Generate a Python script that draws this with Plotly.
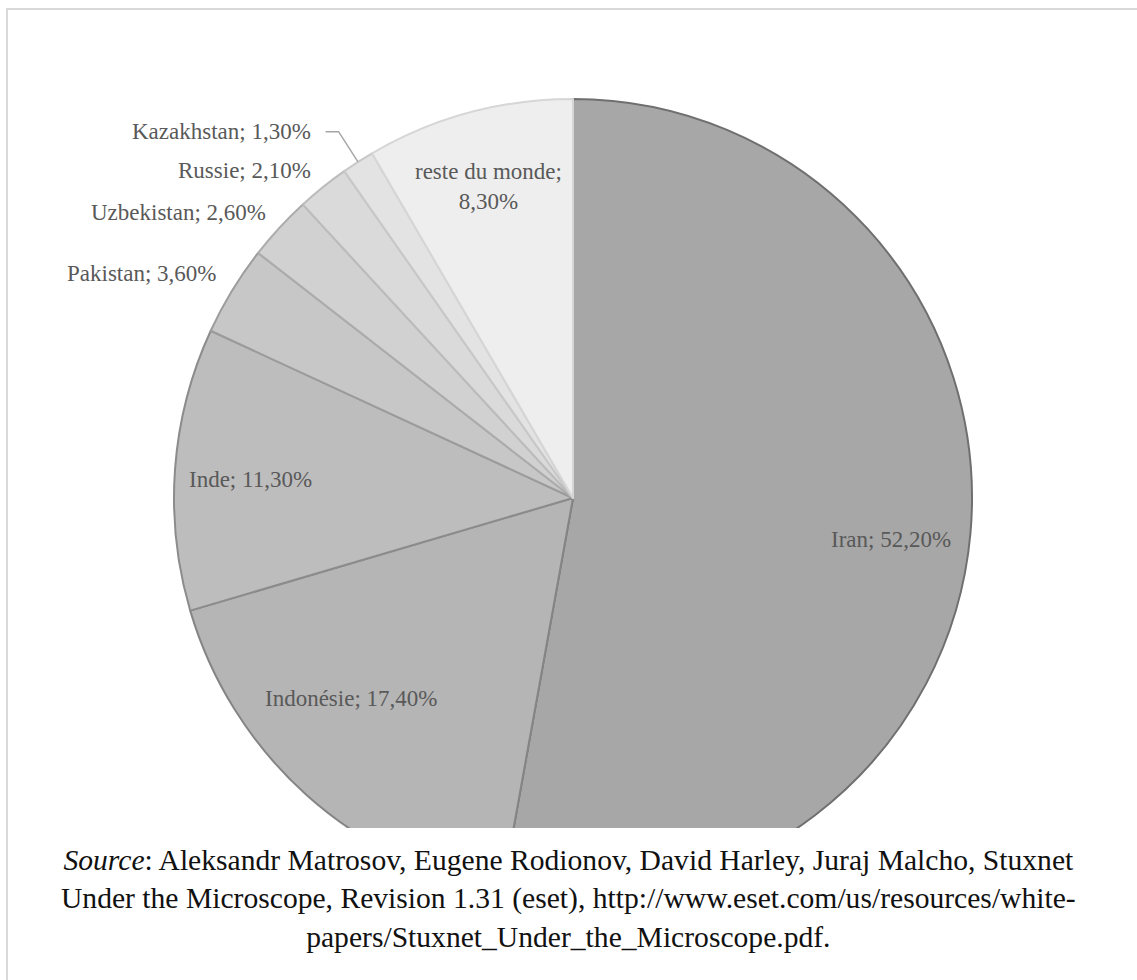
import math
import plotly.graph_objects as go

labels = ["Iran", "Indonésie", "Inde", "Pakistan", "Uzbekistan", "Russie", "Kazakhstan", "reste du monde"]
values = [52.2, 17.4, 11.3, 3.6, 2.6, 2.1, 1.3, 8.3]
value_text = ["52,20%", "17,40%", "11,30%", "3,60%", "2,60%", "2,10%", "1,30%", "8,30%"]

fill_colors = ["#a7a7a7", "#b5b5b5", "#bdbdbd", "#c7c7c7", "#d1d1d1", "#dadada", "#e3e3e3", "#eeeeee"]
line_colors = ["#6f6f6f", "#858585", "#8c8c8c", "#9c9c9c", "#acacac", "#bcbcbc", "#c8c8c8", "#d6d6d6"]

# label placement (style): radius factor, inside/outside, pixel nudges
label_k = [0.80, 0.73, 0.81, 1.04, 1.04, 1.04, 1.09, 0.81]
label_inside = [True, True, True, False, False, False, False, True]
nudge_x = [0, -27, 0, 0, 0, 0, 0, 0]
nudge_y = [13, -16, 5, -9, -4, -4, 0, 0]

W, H = 1137, 980
CX, CY, R = 573, 498, 399
CUT_Y = 828
LABEL_FONT = dict(family="Liberation Serif, serif", size=23, color="#595959")

fig = go.Figure()
fig.add_trace(go.Pie(
    labels=labels, values=values, sort=False, direction="clockwise", rotation=0,
    textinfo="none", hoverinfo="label+percent", showlegend=False,
    marker=dict(colors=fill_colors, line=dict(color=line_colors, width=2)),
    domain=dict(x=[(CX - R) / W, (CX + R) / W], y=[1 - (CY + R) / H, 1 - (CY - R) / H]),
))

total = sum(values)
cum = 0.0
annotations = []
shapes = []
for i, (lab, v, t) in enumerate(zip(labels, values, value_text)):
    mid = (cum + v / 2) / total * 2 * math.pi
    cum += v
    s, c = math.sin(mid), math.cos(mid)
    k = label_k[i]
    px = CX + k * R * s + nudge_x[i]
    py = CY - k * R * c + nudge_y[i]
    if label_inside[i]:
        txt = f"{lab}; {t}" if lab != "reste du monde" else f"{lab};<br>{t}"
        annotations.append(dict(x=px / W, y=1 - py / H, xref="paper", yref="paper",
                                text=txt, showarrow=False, xanchor="center", yanchor="middle",
                                font=LABEL_FONT))
    else:
        tx = px
        if lab == "Kazakhstan":
            ax, ay = CX + 1.0 * R * s, CY - 1.0 * R * c
            shapes.append(dict(type="path", xref="paper", yref="paper",
                               path=f"M {ax / W},{1 - ay / H} L {px / W},{1 - py / H} L {(px - 13) / W},{1 - py / H}",
                               line=dict(color="#a6a6a6", width=1.5)))
            tx = px - 26
        annotations.append(dict(x=tx / W, y=1 - py / H, xref="paper", yref="paper",
                                text=f"{lab}; {t}", showarrow=False, xanchor="right", yanchor="middle",
                                font=LABEL_FONT))

# white caption box covering bottom of pie
shapes.append(dict(type="rect", xref="paper", yref="paper", x0=0, x1=1, y0=0, y1=1 - CUT_Y / H,
                   fillcolor="white", line=dict(width=0), layer="above"))
# frame
shapes.append(dict(type="rect", xref="paper", yref="paper", x0=7 / W, x1=1.01, y0=-0.01, y1=1 - 9 / H,
                   fillcolor="rgba(0,0,0,0)", line=dict(color="#d9d9d9", width=2), layer="above"))

caption = ("<i>Source</i>: Aleksandr Matrosov, Eugene Rodionov, David Harley, Juraj Malcho, Stuxnet<br>"
           "Under the Microscope, Revision 1.31 (eset), http://www.eset.com/us/resources/white-<br>"
           "papers/Stuxnet_Under_the_Microscope.pdf.")
annotations.append(dict(x=0.5, y=1 - 898 / H, xref="paper", yref="paper", text=caption,
                        showarrow=False, xanchor="center", yanchor="middle", align="center",
                        font=dict(family="Liberation Serif, serif", size=29.6, color="#111111")))

fig.update_layout(width=W, height=H, margin=dict(l=0, r=0, t=0, b=0),
                  paper_bgcolor="white", plot_bgcolor="white",
                  annotations=annotations, shapes=shapes)
fig.write_html("out.html")
